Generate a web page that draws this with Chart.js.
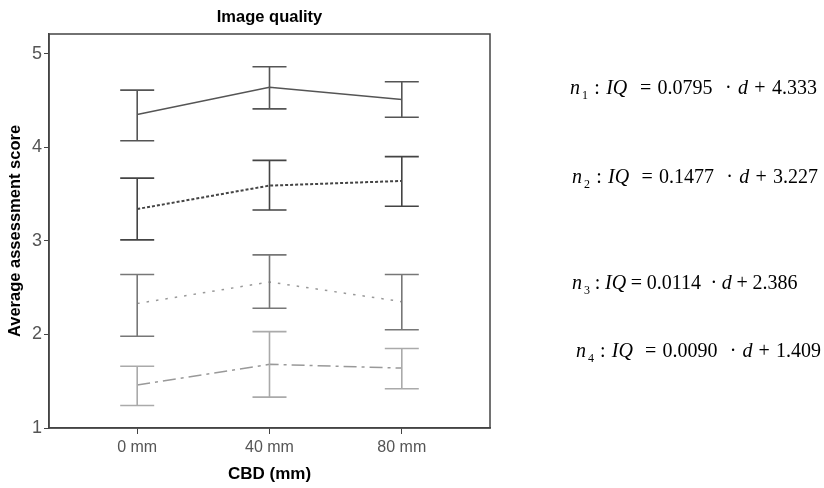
<!DOCTYPE html>
<html>
<head>
<meta charset="utf-8">
<script src="https://cdn.jsdelivr.net/npm/chart.js@4.4.1/dist/chart.umd.min.js"></script>
<style>
    body { margin: 0; background: #fff; }
    #wrap { position: relative; width: 824px; height: 488px; }
    #chart { position: absolute; left: 0; top: 0; }
    .eq {
        position: absolute;
        font-family: "Liberation Serif", "DejaVu Serif", serif;
        font-size: 20px;
        color: #000;
        white-space: pre;
        line-height: 1;
    }
    .eq i { font-style: italic; }
    .eq sub { font-size: 12px; vertical-align: -5px; margin-left: 2px; }
</style>
</head>
<body>
<div id="wrap">
    <canvas id="chart" width="824" height="488"></canvas>
    <div class="eq" style="left:570px; top:77px; word-spacing:1.3px;"><i>n</i><sub>1</sub> : <i>IQ</i>  = 0.0795  · <i>d</i> + 4.333</div>
    <div class="eq" style="left:572px; top:166px; word-spacing:1.2px;"><i>n</i><sub>2</sub> : <i>IQ</i>  = 0.1477  · <i>d</i> + 3.227</div>
    <div class="eq" style="left:572px; top:272px; word-spacing:-0.3px;"><i>n</i><sub>3</sub> : <i>IQ</i> = 0.0114  · <i>d</i> + 2.386</div>
    <div class="eq" style="left:576px; top:340px; word-spacing:1.1px;"><i>n</i><sub>4</sub> : <i>IQ</i>  = 0.0090  · <i>d</i> + 1.409</div>
</div>
<script>
// categories on the x axis
const categories = ['0 mm', '40 mm', '80 mm'];

// mean scores and error bar ends per group
const n1Mean = [4.35, 4.64, 4.51];
const n1Low  = [4.07, 4.41, 4.32];
const n1High = [4.61, 4.86, 4.70];

const n2Mean = [3.34, 3.59, 3.64];
const n2Low  = [3.01, 3.33, 3.37];
const n2High = [3.67, 3.86, 3.90];

const n3Mean = [2.33, 2.56, 2.35];
const n3Low  = [1.98, 2.28, 2.05];
const n3High = [2.64, 2.85, 2.64];

const n4Mean = [1.46, 1.68, 1.64];
const n4Low  = [1.24, 1.33, 1.42];
const n4High = [1.66, 2.03, 1.85];

const yTicks = [1, 2, 3, 4, 5];

function toPoints(values) {
    return values.map((v, i) => ({ x: i, y: v }));
}

// draws error bars from dataset.errLow / errHigh through the scales
const errorBarPlugin = {
    id: 'errorBars',
    afterDatasetsDraw(chart) {
        const ctx = chart.ctx;
        const xs = chart.scales.x;
        const ys = chart.scales.y;
        const cap = 17;
        chart.data.datasets.forEach(ds => {
            ctx.save();
            ctx.strokeStyle = ds.errColor;
            ctx.lineWidth = 1.6;
            ctx.setLineDash([]);
            ds.errLow.forEach((lo, i) => {
                const px = xs.getPixelForValue(i);
                const pLo = ys.getPixelForValue(lo);
                const pHi = ys.getPixelForValue(ds.errHigh[i]);
                ctx.beginPath();
                ctx.moveTo(px, pLo);
                ctx.lineTo(px, pHi);
                ctx.moveTo(px - cap, pLo);
                ctx.lineTo(px + cap, pLo);
                ctx.moveTo(px - cap, pHi);
                ctx.lineTo(px + cap, pHi);
                ctx.stroke();
            });
            ctx.restore();
        });
    }
};

// box around the plot area
const framePlugin = {
    id: 'frame',
    afterDraw(chart) {
        const a = chart.chartArea;
        const ctx = chart.ctx;
        ctx.save();
        ctx.strokeStyle = '#444';
        ctx.lineWidth = 1.5;
        ctx.strokeRect(a.left, a.top, a.right - a.left, a.bottom - a.top);
        ctx.restore();
    }
};

const boldFont = { family: 'Liberation Sans', size: 16.5, weight: 'bold', lineHeight: 1.2 };

new Chart(document.getElementById('chart').getContext('2d'), {
    type: 'line',
    data: {
        datasets: [
            {
                data: toPoints(n1Mean), errLow: n1Low, errHigh: n1High, errColor: '#555',
                borderColor: '#555', borderWidth: 1.5, borderDash: []
            },
            {
                data: toPoints(n2Mean), errLow: n2Low, errHigh: n2High, errColor: '#444',
                borderColor: '#444', borderWidth: 2, borderDash: [3, 2]
            },
            {
                data: toPoints(n3Mean), errLow: n3Low, errHigh: n3High, errColor: '#777',
                borderColor: '#999', borderWidth: 1.5, borderDash: [2.5, 7]
            },
            {
                data: toPoints(n4Mean), errLow: n4Low, errHigh: n4High, errColor: '#aaa',
                borderColor: '#999', borderWidth: 1.5, borderDash: [13, 5, 3, 5]
            }
        ]
    },
    options: {
        responsive: false,
        animation: false,
        layout: { padding: { left: 0, right: 334, top: 0, bottom: 0 } },
        elements: { point: { radius: 0 }, line: { tension: 0 } },
        plugins: {
            legend: { display: false },
            tooltip: { enabled: false },
            title: {
                display: true,
                text: 'Image quality',
                fullSize: false,
                color: '#000',
                font: boldFont,
                padding: { top: 8, bottom: 6.2 }
            }
        },
        scales: {
            x: {
                type: 'linear',
                min: -2 / 3,
                max: 8 / 3,
                afterBuildTicks: axis => { axis.ticks = categories.map((c, i) => ({ value: i })); },
                afterFit: axis => { axis.height = 60; },
                ticks: {
                    callback: v => categories[v],
                    color: '#555',
                    padding: 4,
                    font: { family: 'Liberation Sans', size: 16 }
                },
                grid: { drawOnChartArea: false, tickLength: 6, color: '#444' },
                border: { color: '#444', width: 1.5 },
                title: {
                    display: true,
                    text: 'CBD (mm)',
                    color: '#000',
                    font: { family: 'Liberation Sans', size: 17, weight: 'bold', lineHeight: 1.2 },
                    padding: { top: 0, bottom: 3 }
                }
            },
            y: {
                min: 1,
                max: 5.21,
                afterBuildTicks: axis => { axis.ticks = yTicks.map(v => ({ value: v })); },
                afterFit: axis => { axis.width = 49; },
                ticks: {
                    color: '#555',
                    padding: 2,
                    font: { family: 'Liberation Sans', size: 18 }
                },
                grid: { drawOnChartArea: false, tickLength: 5, color: '#444' },
                border: { color: '#444', width: 1.5 },
                title: {
                    display: true,
                    text: 'Average assessment score',
                    color: '#000',
                    font: boldFont,
                    padding: { top: 6, bottom: 0 }
                }
            }
        }
    },
    plugins: [errorBarPlugin, framePlugin]
});
</script>
</body>
</html>
